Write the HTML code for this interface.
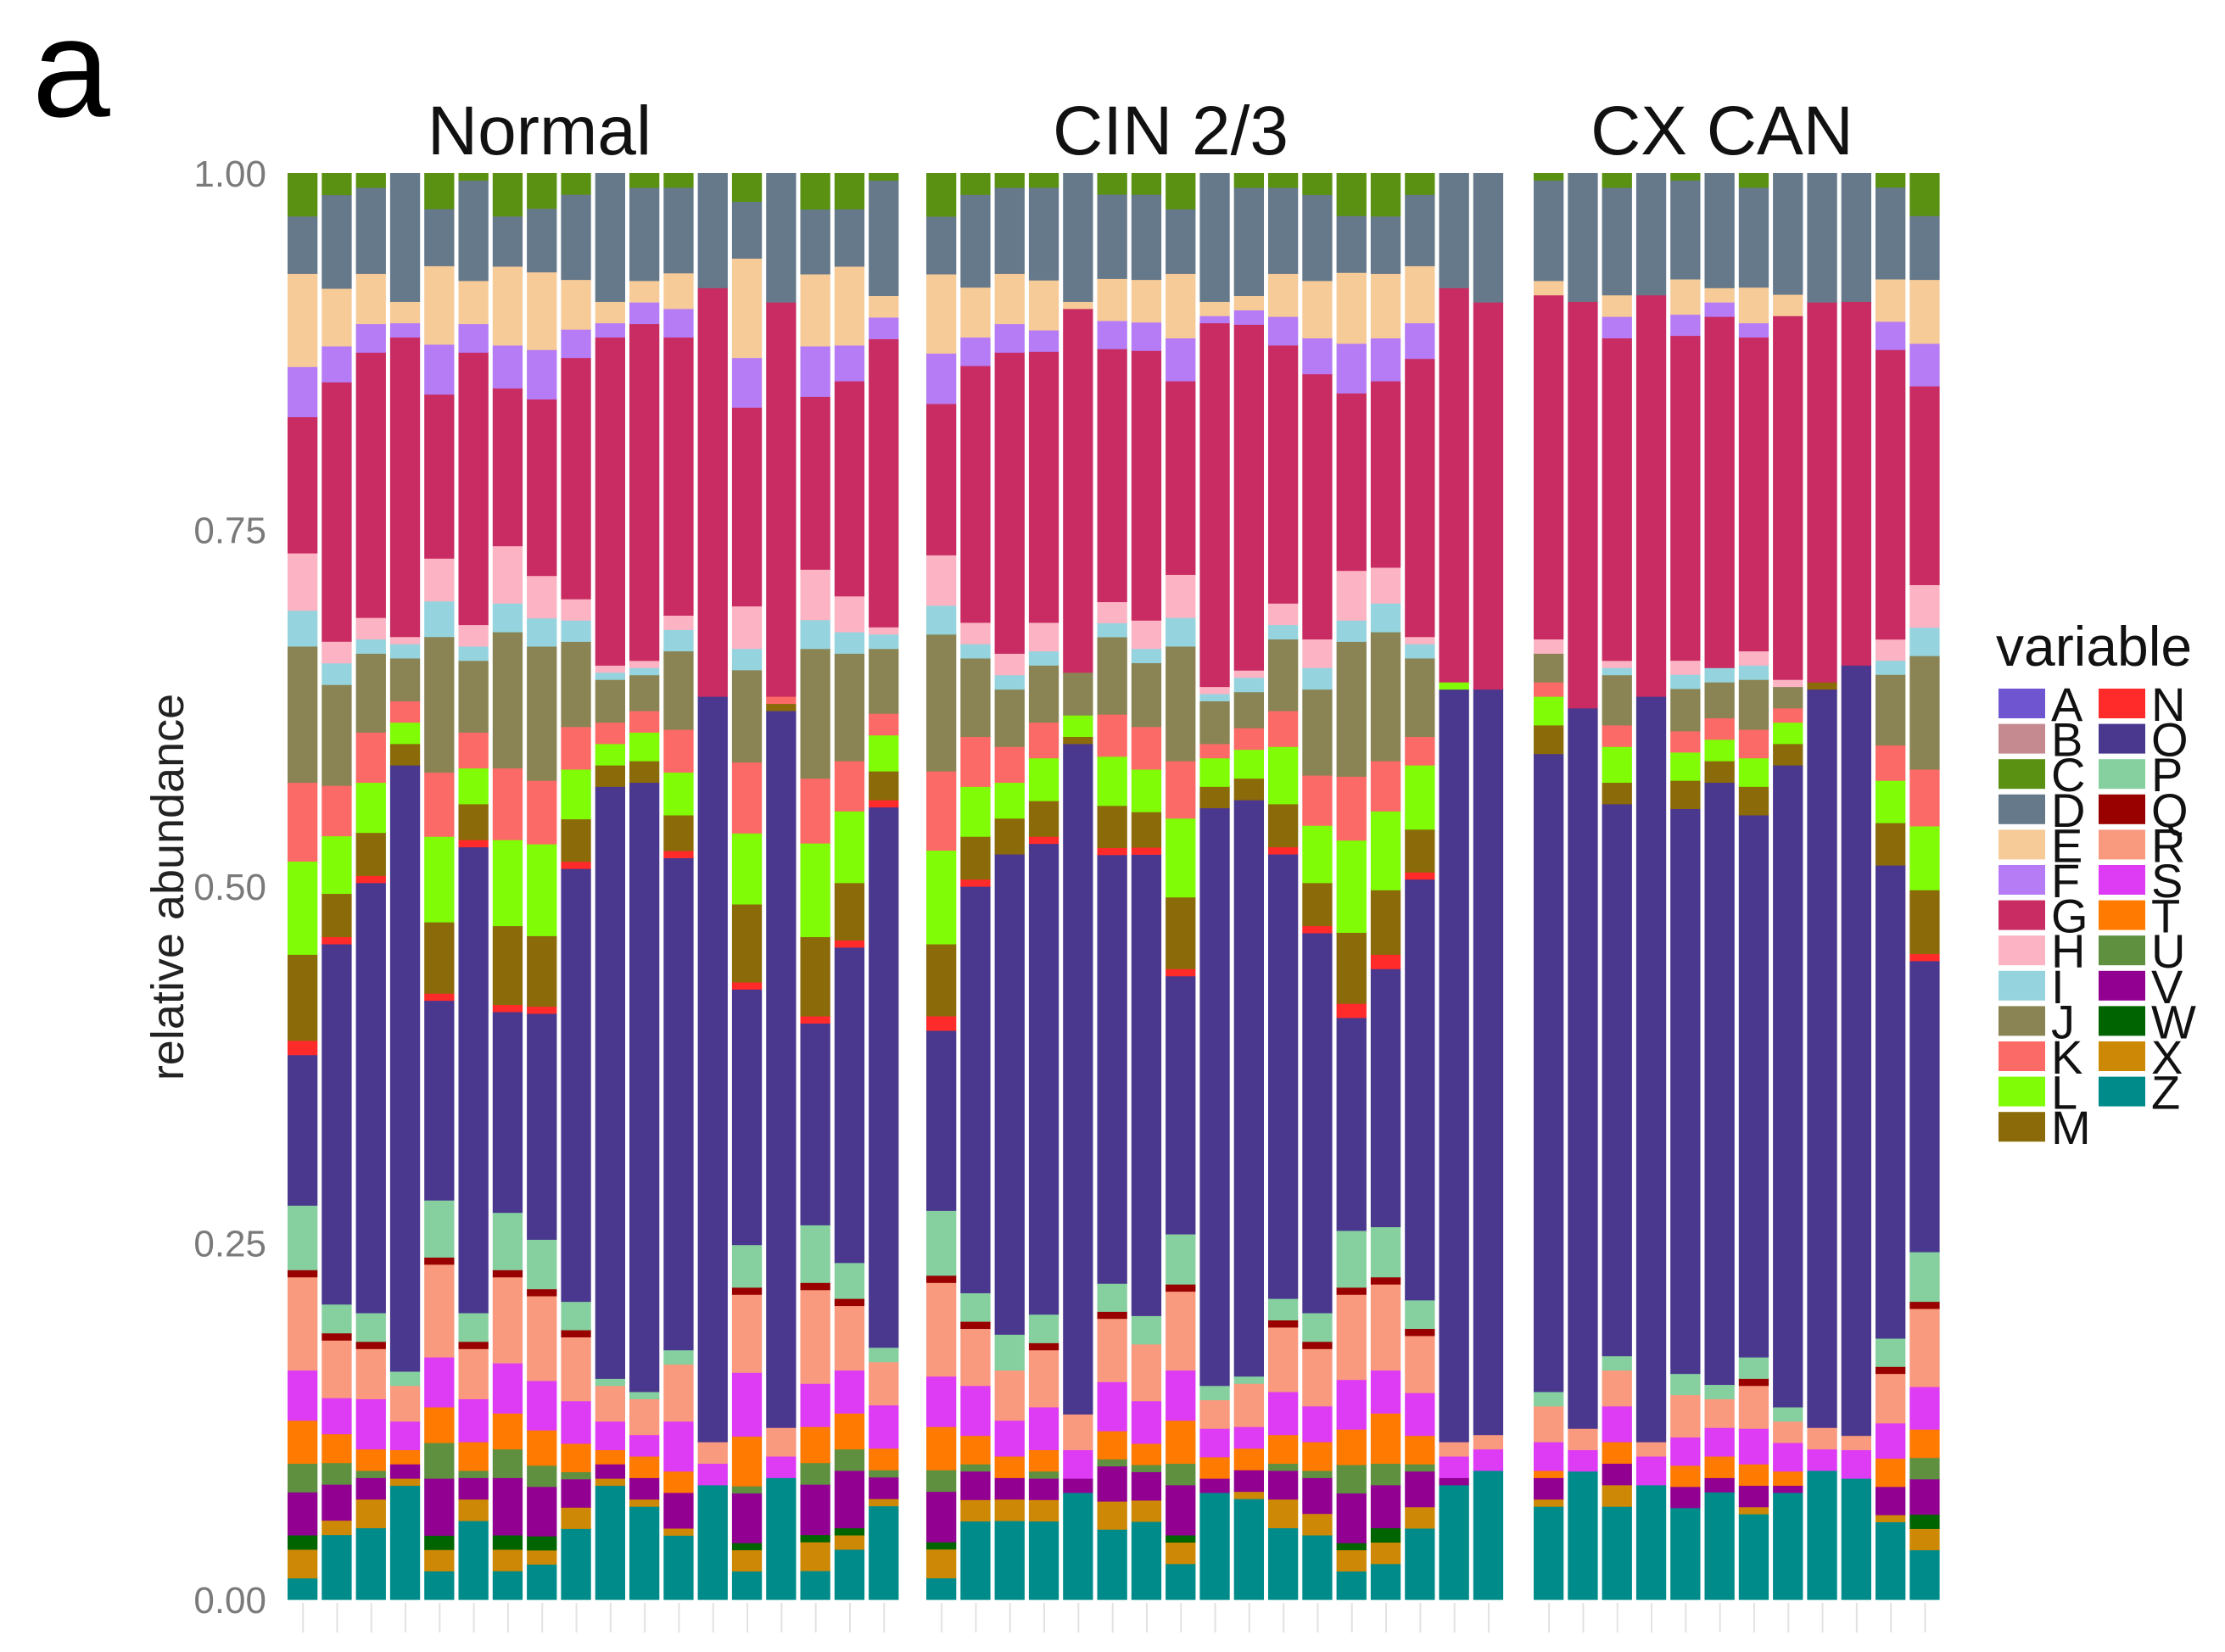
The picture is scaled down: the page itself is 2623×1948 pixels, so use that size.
<!DOCTYPE html>
<html><head><meta charset="utf-8"><style>
html,body{margin:0;padding:0;background:#fff;}
svg{display:block;font-family:"Liberation Sans",Arial,sans-serif;}
</style></head><body>
<svg id="chart" width="2623" height="1948" viewBox="0 0 2623 1948" xmlns="http://www.w3.org/2000/svg">
<rect width="2623" height="1948" fill="#fff"/>
<text x="38" y="137" font-size="165" fill="#000">a</text>
<text transform="translate(216,1046) rotate(-90)" text-anchor="middle" font-size="54" fill="#222">relative abundance</text>
<g id="yaxis"></g>
<g id="bars"></g>
<g id="strips"></g>
<g id="legend"></g>
</svg>
<script>
const panels = ["Normal", "CIN 2/3", "CX CAN"];
const panelCounts = [18, 17, 12];
const yTicks = [0, 0.25, 0.5, 0.75, 1];
const yTickLabels = ["0.00", "0.25", "0.50", "0.75", "1.00"];
const categories = ["A","B","C","D","E","F","G","H","I","J","K","L","M","N","O","P","Q","R","S","T","U","V","W","X","Z"];
const colors = {A:"#6f55d0",B:"#c48a90",C:"#5a9112",D:"#66798a",E:"#f7cb98",F:"#b57cf6",G:"#c92c62",H:"#fcb3c3",I:"#95d4de",J:"#8a8454",K:"#fb6a66",L:"#7ffc06",M:"#8b6a0a",N:"#ff2b2b",O:"#4a378e",P:"#86d0a0",Q:"#990000",R:"#f99a7e",S:"#dd3cf4",T:"#ff7a00",U:"#5f9040",V:"#920092",W:"#006400",X:"#cd8806",Z:"#008b8b"};
// values per category, 47 samples: Normal(18), CIN 2/3(17), CX CAN(12)
const vZ = [1.5,4.5,5,8,2,5.5,2,2.5,5,8,6.5,4.5,8,2,8.5,2,3.5,6.5, 1.5,5.5,5.5,5.5,7.5,5,5.5,2.5,7.5,7,5,4.5,2,2.5,5,8,9, 6.5,9,6.5,8,6.5,7.5,6,7.5,9,8.5,5.5,3.5];
const vX = [2,1,2,.5,1.5,1.5,1.5,1,1.5,.5,.5,.5,0,1.5,0,2,1,.5, 2,1.5,1.5,1.5,0,2,1.5,1.5,0,.5,2,1.5,1.5,1.5,1.5,0,0, .5,0,1.5,0,0,0,.5,0,0,0,.5,1.5];
const vW = [1,0,0,0,1,0,1,1,0,0,0,0,0,.5,0,.5,.5,0, .5,0,0,0,0,0,0,.5,0,0,0,0,.5,1,0,0,0, 0,0,0,0,0,0,0,0,0,0,0,1];
const vV = [3,2.5,1.5,1,4,1.5,4,3.5,2,1,1.5,2.5,0,3.5,0,3.5,4,1.5, 3.5,2,1.5,1.5,1,2.5,2,3.5,1,1.5,2,2.5,3.5,3,2.5,.5,0, 1.5,0,1.5,0,1.5,1,1.5,.5,0,0,2,2.5];
const vU = [2,1.5,.5,0,2.5,.5,2,1.5,.5,0,0,0,0,.5,0,1.5,1.5,.5, 1.5,.5,0,.5,0,.5,.5,1.5,0,0,.5,.5,2,1.5,.5,0,0, 0,0,0,0,0,0,0,0,0,0,0,1.5];
const vT = [3,2,1.5,1,2.5,2,2.5,2.5,2,1,1.5,1.5,0,3.5,0,2.5,2.5,1.5, 3,2,1.5,1.5,0,2,1.5,3,1.5,1.5,2,2,2.5,3.5,2,0,0, .5,0,1.5,0,1.5,1.5,1.5,1,0,0,2,2];
const vS = [3.5,2.5,3.5,2,3.5,3,3.5,3.5,3,2,1.5,3.5,1.5,4.5,1.5,3,3,3, 3.5,3.5,2.5,3,2,3.5,3,3.5,2,1.5,3,2.5,3.5,3,3,1.5,1.5, 2,1.5,2.5,2,2,2,2.5,2,1.5,2,2.5,3];
const vR = [6.5,4,3.5,2.5,6.5,3.5,6,6,4.5,2.5,2.5,4,1.5,5.5,2,6.5,4.5,3, 6.5,4,3.5,4,2.5,4.5,4,5.5,2,3,4.5,4,6,6,4,1,1, 2.5,1.5,2.5,1,3,2,3,1.5,1.5,1,3.5,5.5];
const vQ = [.5,.5,.5,0,.5,.5,.5,.5,.5,0,0,0,0,.5,0,.5,.5,0, .5,.5,0,.5,0,.5,0,.5,0,0,.5,.5,.5,.5,.5,0,0, 0,0,0,0,0,0,.5,0,0,0,.5,.5];
const vP = [4.5,2,2,1,4,2,4,3.5,2,.5,.5,1,0,3,0,4,2.5,1, 4.5,2,2.5,2,0,2,2,3.5,1,.5,1.5,2,4,3.5,2,0,0, 1,0,1,0,1.5,1,1.5,1,0,0,2,3.5];
const vO = [10.5,25,30,42.5,14,32.5,14,16,30.5,41.5,42.5,34.5,52,18,50,14,22,37.5, 12.5,28.5,33.5,33,47,30.5,32.5,18,40.5,40,31,26.5,15,18,29.5,52.5,52, 44.5,50.5,38.5,52,40,42,38,45,51.5,54,33.5,20.5];
const vN = [1,.5,.5,0,.5,.5,.5,.5,.5,0,0,.5,0,.5,0,.5,.5,.5, 1,.5,0,.5,0,.5,.5,.5,0,0,.5,.5,1,1,.5,0,0, 0,0,0,0,0,0,0,0,0,0,0,.5];
const vM = [6,3,3,1.5,5,2.5,5.5,5,3,1.5,1.5,2.5,0,5.5,.5,5.5,4,2, 5,3,2.5,2.5,.5,3,2.5,5,1.5,1.5,3,3,5,4.5,3,0,0, 2,0,1.5,0,2,1.5,2,1.5,.5,0,3,4.5];
const vL = [6.5,4,3.5,1.5,6,2.5,6,6.5,3.5,1.5,2,3,0,5,0,6.5,5,2.5, 6.5,3.5,2.5,3,1.5,3.5,3,5.5,2,2,4,4,6.5,5.5,4.5,.5,0, 2,0,2.5,0,2,1.5,2,1.5,0,0,3,4.5];
const vK = [5.5,3.5,3.5,1.5,4.5,2.5,5,4.5,3,1.5,1.5,3,0,5,.5,4.5,3.5,1.5, 5.5,3.5,2.5,2.5,0,3,3,4,1,1.5,2.5,3.5,4.5,3.5,2,0,0, 1,0,1.5,0,1.5,1.5,2,1,0,0,2.5,4];
const vJ = [9.5,7,5.5,3,9.5,5,9.5,9.5,6,3,2.5,5.5,0,6.5,0,9,7.5,4.5, 9.5,5.5,4,4,3,5.5,4.5,8,3,2.5,5,6,9.5,9,5.5,0,0, 2,0,3.5,0,3,2.5,3.5,1.5,0,0,5,8];
const vI = [2.5,1.5,1,1,2.5,1,2,2,1.5,.5,.5,1.5,0,1.5,0,2,1.5,1, 2,1,1,1,0,1,1,2,.5,1,1,1.5,1.5,2,1,0,0, 0,0,.5,0,1,1,1,0,0,0,1,2];
const vH = [4,1.5,1.5,.5,3,1.5,4,3,1.5,.5,.5,1,0,3,0,3.5,2.5,.5, 3.5,1.5,1.5,2,0,1.5,2,3,.5,.5,1.5,2,3.5,2.5,.5,0,0, 1,0,.5,0,1,0,1,.5,0,0,1.5,3];
const vG = [9.5,18,18.5,21,11.5,19,11,12.5,17,23,23.5,19.5,28.5,14,27.5,12,15,20, 10.5,18,21,19,25.5,18,19,13.5,25.5,24,18,18.5,12.5,13,19.5,27.5,27, 24,28.5,22.5,28,23,24.5,22,25.5,26.5,25.5,20.5,14];
const vF = [3.5,2.5,2,1,3.5,2,3,3.5,2,1,1.5,2,0,3.5,0,3.5,2.5,1.5, 3.5,2,2,1.5,0,2,2,3,.5,1,2,2.5,3.5,3,2.5,0,0, 0,0,1.5,0,1.5,1,1,0,0,0,2,3];
const vE = [6.5,4,3.5,1.5,5.5,3,5.5,5.5,3.5,1.5,1.5,2.5,0,7,0,5,5.5,1.5, 5.5,3.5,3.5,3.5,.5,3,3,4.5,1,1,3,4,5,4.5,4,0,0, 1,0,1.5,0,2.5,1,2.5,1.5,0,0,3,4.5];
const vD = [4,6.5,6,9,4,7,3.5,4.5,6,9,6.5,6,8,4,9,4.5,4,8, 4,6.5,6,6.5,9,6,6,4.5,9,7.5,6,6,4,4,5,8,9, 7,9,7.5,8.5,7,8,7,8.5,9,9,6.5,4.5];
const vC = [3,1.5,1,0,2.5,.5,3,2.5,1.5,0,1,1,0,2,0,2.5,2.5,.5, 3,1.5,1,1,0,1.5,1.5,2.5,0,1,1,1.5,3,3,1.5,0,0, .5,0,1,0,.5,0,1,0,0,0,1,3];
const vA = [];
const vB = [];

const series = {A:vA,B:vB,C:vC,D:vD,E:vE,F:vF,G:vG,H:vH,I:vI,J:vJ,K:vK,L:vL,M:vM,N:vN,O:vO,P:vP,Q:vQ,R:vR,S:vS,T:vT,U:vU,V:vV,W:vW,X:vX,Z:vZ};
const stackOrder = ["Z","X","W","V","U","T","S","R","Q","P","O","N","M","L","K","J","I","H","G","F","E","D","C","B","A"];

const NS = "http://www.w3.org/2000/svg";
const Y0 = 1886, Y1 = 204;
const panelX = [337, 1090, 1806];
const pitch = 40.3;
const titleX = [636, 1380, 2030];
function yScale(v){ return Y0 - v*(Y0-Y1); }
function mk(tag, attrs, parent){ const e=document.createElementNS(NS,tag); for(const k in attrs) e.setAttribute(k,attrs[k]); parent.appendChild(e); return e; }

const yaxis = document.getElementById('yaxis');
yTicks.forEach((t,i)=>{
  const tx = mk('text',{x:314,y:yScale(t)+16,'text-anchor':'end','font-size':44,fill:'#7a7a7a'},yaxis);
  tx.textContent = yTickLabels[i];
  
  
});

const bars = document.getElementById('bars');
const strips = document.getElementById('strips');
let idx = 0;
panels.forEach((p,pi)=>{
  const t = mk('text',{x:titleX[pi],y:182,'text-anchor':'middle','font-size':82,fill:'#111'},strips);
  t.textContent = p;
  
  
  for(let b=0;b<panelCounts[pi];b++){
    const x = panelX[pi] + b*pitch;
    const g = mk('g',{},bars);
    
    
    let total = 0;
    stackOrder.forEach(c=>{ total += (series[c][idx]||0); });
    let cum = 0;
    stackOrder.forEach(c=>{
      const v = (series[c][idx]||0)/total;
      if(v<=0) return;
      const yTop = yScale(cum+v), yBot = yScale(cum);
      const r = mk('rect',{x:x+2,y:yTop,width:pitch-5,height:Math.max(0,yBot-yTop+0.6),fill:colors[c]},g);
      
      
      cum += v;
    });
    const tk = mk('line',{x1:x+pitch/2,x2:x+pitch/2,y1:1890,y2:1925,stroke:'#e2e2e2','stroke-width':2},bars);
    
    
    idx++;
  }
});

const legend = document.getElementById('legend');
const lt = mk('text',{x:2353,y:785,'font-size':66,fill:'#111'},legend);
lt.textContent = 'variable';


categories.forEach((c,i)=>{
  const col = i<13?0:1, row = i<13?i:i-13;
  const kx = col===0?2356:2474, ky = 812 + row*41.6;
  const r = mk('rect',{x:kx,y:ky,width:55,height:35,fill:colors[c]},legend);
  
  
  const t = mk('text',{x:kx+62,y:ky+38,'font-size':56,fill:'#111'},legend);
  t.textContent = c;
  
  
});
</script>
</body></html>
